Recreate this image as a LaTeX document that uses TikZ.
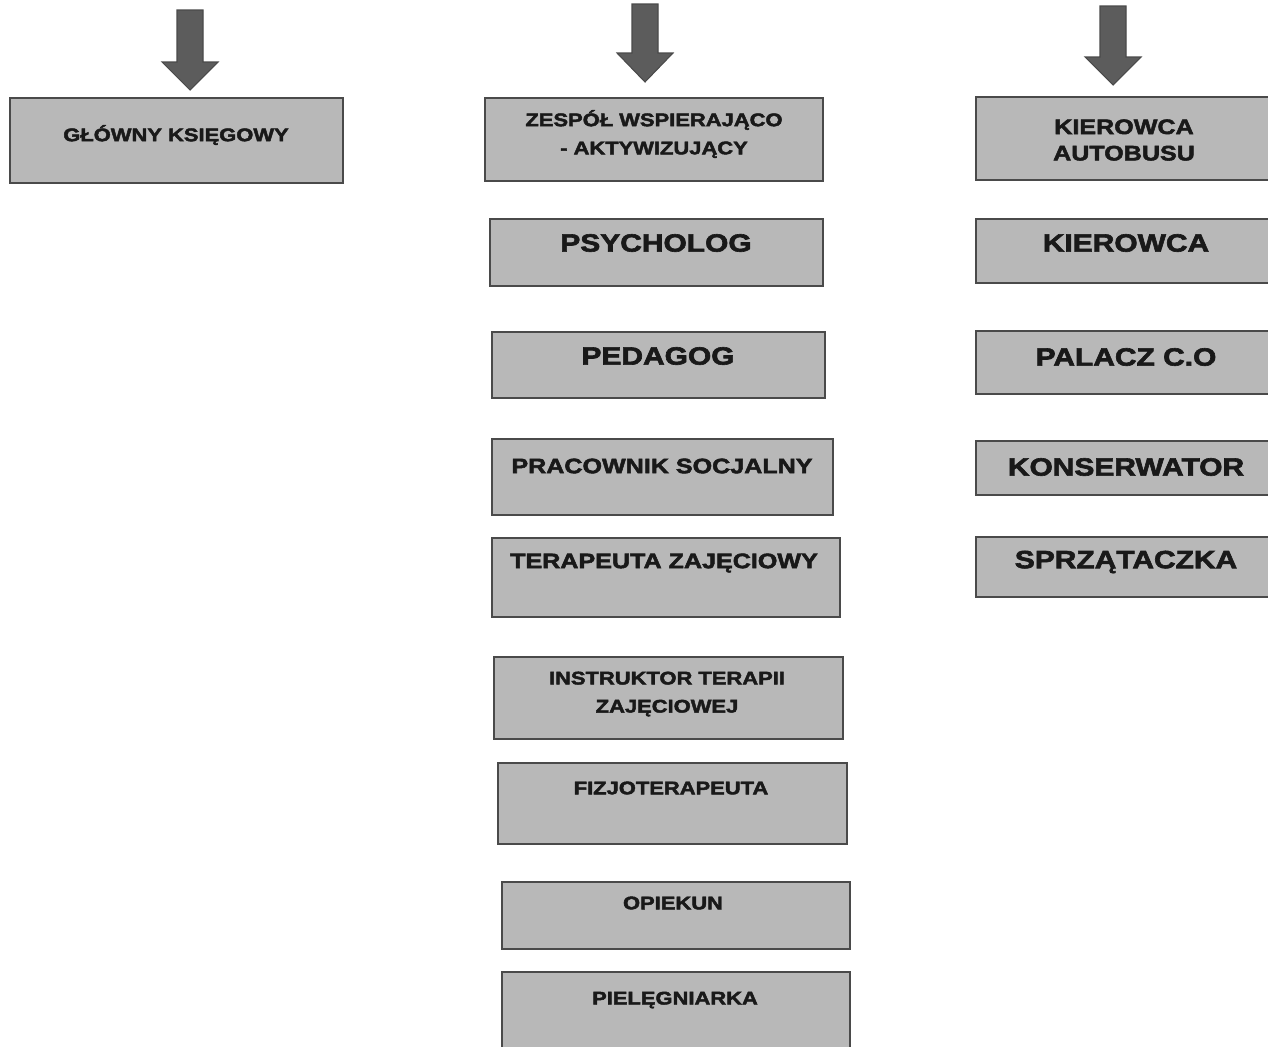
\documentclass[tikz,border=0pt]{standalone}
\usepackage{fontspec}
\newfontfamily\jobfont{Liberation Sans}[FakeStretch=1.2, FakeBold=2.5]
\usepackage{xcolor}
\usepackage{tikz}

\definecolor{boxgray}{HTML}{B8B8B8}
\definecolor{edgegray}{HTML}{4A4A4A}
\definecolor{arrowgray}{HTML}{5C5C5C}

\tikzset{
    box/.style={draw=edgegray, fill=boxgray, line width=1.2pt},
    bigarrow/.style={draw=edgegray, fill=arrowgray, line width=0.6pt, line join=miter},
    job/.style={text=black!90, align=center, inner sep=0pt},
    lblsmall/.style={job, font=\jobfont\bfseries\fontsize{10.4}{16}\selectfont},
    lblmid/.style={job, font=\jobfont\bfseries\fontsize{11.9}{15}\selectfont},
    lblbig/.style={job, font=\jobfont\bfseries\fontsize{14.2}{17}\selectfont},
}

\begin{document}
\begin{tikzpicture}[x=0.2mm, y=-0.2mm]
        \useasboundingbox[fill=white] (0, 0) rectangle (1268, 1046);

        % arrows coming in from above
        \foreach \ax/\atop/\ahead/\atip in {190/10/62/90, 645/4/53/82, 1113/6/57/85}
            \draw[bigarrow] (\ax-13, \atop) -- (\ax+13, \atop) -- (\ax+13, \ahead)
                -- (\ax+28, \ahead) -- (\ax, \atip) -- (\ax-28, \ahead)
                -- (\ax-13, \ahead) -- cycle;

        % left column
        \draw[box] (10, 98) rectangle (343, 183);
        \node[lblsmall] (glowny) at (176, 135) {GŁÓWNY KSIĘGOWY};

        % middle column
        \draw[box] (485,  98) rectangle (823, 181);
        \draw[box] (490, 219) rectangle (823, 286);
        \draw[box] (492, 332) rectangle (825, 398);
        \draw[box] (492, 439) rectangle (833, 515);
        \draw[box] (492, 538) rectangle (840, 617);
        \draw[box] (494, 657) rectangle (843, 739);
        \draw[box] (498, 763) rectangle (847, 844);
        \draw[box] (502, 882) rectangle (850, 949);
        \draw[box] (502, 972) rectangle (850, 1080);
        \node[lblsmall] (zespol)     at (654, 134)  {ZESPÓŁ WSPIERAJĄCO\\- AKTYWIZUJĄCY};
        \node[lblbig]   (psycholog)  at (656, 243)  {PSYCHOLOG};
        \node[lblbig]   (pedagog)    at (658, 356)  {PEDAGOG};
        \node[lblmid]   (pracownik)  at (662, 466)  {PRACOWNIK SOCJALNY};
        \node[lblmid]   (terapeuta)  at (664, 563)  {TERAPEUTA ZAJĘCIOWY};
        \node[lblsmall] (instruktor) at (667, 694)  {INSTRUKTOR TERAPII\\ZAJĘCIOWEJ};
        \node[lblsmall] (fizjo)      at (671, 788)  {FIZJOTERAPEUTA};
        \node[lblsmall] (opiekun)    at (673, 903)  {OPIEKUN};
        \node[lblsmall] (pielegn)    at (675, 1000) {PIELĘGNIARKA};

        % right column
        \draw[box] (976,  97) rectangle (1276, 180);
        \draw[box] (976, 219) rectangle (1276, 283);
        \draw[box] (976, 331) rectangle (1276, 394);
        \draw[box] (976, 441) rectangle (1276, 495);
        \draw[box] (976, 537) rectangle (1276, 597);
        \node[lblmid] (autobus)    at (1124, 140) {KIEROWCA\\AUTOBUSU};
        \node[lblbig] (kierowca)   at (1126, 243) {KIEROWCA};
        \node[lblbig] (palacz)     at (1126, 357) {PALACZ C.O};
        \node[lblbig] (konserw)    at (1126, 467) {KONSERWATOR};
        \node[lblbig] (sprzat)     at (1126, 562) {SPRZĄTACZKA};
    \end{tikzpicture}
\end{document}
